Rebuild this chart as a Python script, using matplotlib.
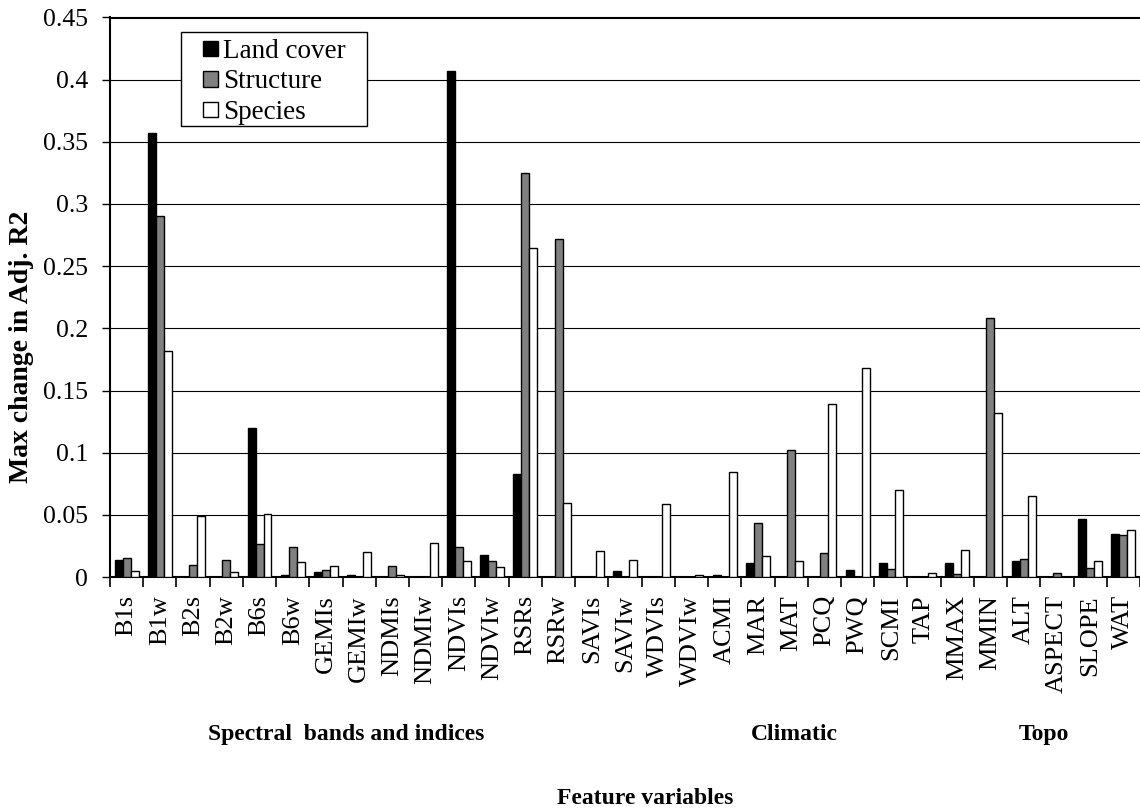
import numpy as np
import matplotlib
matplotlib.use('Agg')
import matplotlib.pyplot as plt
from matplotlib.patches import Rectangle

# data
features = ['B1s', 'B1w', 'B2s', 'B2w', 'B6s', 'B6w', 'GEMIs', 'GEMIw', 'NDMIs', 'NDMIw',
            'NDVIs', 'NDVIw', 'RSRs', 'RSRw', 'SAVIs', 'SAVIw', 'WDVIs', 'WDVIw',
            'ACMI', 'MAR', 'MAT', 'PCQ', 'PWQ', 'SCMI', 'TAP', 'MMAX', 'MMIN',
            'ALT', 'ASPECT', 'SLOPE', 'WAT']
land_cover = [0.0139, 0.357, 0, 0, 0.1195, 0.0013, 0.0037, 0.0013, 0, 0,
              0.407, 0.0179, 0.0826, 0, 0, 0.0045, 0, 0,
              0.0013, 0.011, 0, 0, 0.0053, 0.0115, 0, 0.0115, 0,
              0.0126, 0, 0.0465, 0.0342]
structure = [0.015, 0.29, 0.0096, 0.0139, 0.0262, 0.024, 0.0056, 0, 0.0086, 0,
             0.024, 0.0126, 0.325, 0.272, 0, 0, 0, 0,
             0, 0.0433, 0.102, 0.019, 0, 0.0067, 0, 0.0024, 0.208,
             0.0147, 0.0035, 0.0075, 0.0334]
species = [0.0045, 0.182, 0.0487, 0.0037, 0.0508, 0.0118, 0.0086, 0.0198, 0.0013, 0.0273,
           0.0126, 0.0078, 0.265, 0.0599, 0.0209, 0.0136, 0.0588, 0.0013,
           0.0848, 0.0168, 0.0126, 0.139, 0.168, 0.0703, 0.0035, 0.0219, 0.1318,
           0.065, 0, 0.0126, 0.0374]
yticks = [0, 0.05, 0.1, 0.15, 0.2, 0.25, 0.3, 0.35, 0.4, 0.45]
ytick_labels = ['0', '0.05', '0.1', '0.15', '0.2', '0.25', '0.3', '0.35', '0.4', '0.45']
groups = ['Spectral  bands and indices', 'Climatic', 'Topo']
group_x = [6.6, 20.1, 27.6]

plt.rcParams['font.family'] = 'Liberation Serif'

fig = plt.figure(figsize=(11.4, 8.11), dpi=100)
ax = fig.add_axes([110/1140, 1 - 577/811, 1030/1140, 559.5/811])

x = np.arange(len(features))
w = 0.24
ax.bar(x - w, land_cover, w, color='black', edgecolor='black', linewidth=1, label='Land cover', zorder=3)
ax.bar(x, structure, w, color='#808080', edgecolor='black', linewidth=1, label='Structure', zorder=3)
ax.bar(x + w, species, w, color='white', edgecolor='black', linewidth=1, label='Species', zorder=3)

ax.set_xlim(-0.5, len(features) - 0.5)
ax.set_ylim(0, 0.45)
ax.set_yticks(yticks)
ax.set_yticklabels(ytick_labels)
ax.grid(axis='y', color='black', linewidth=0.8, zorder=0)

ax.set_xticks(x)
ax.set_xticklabels(features, rotation=90)
ax.set_xticks(np.arange(-0.5, len(features), 1), minor=True)
ax.tick_params(axis='x', which='major', length=0, labelsize=19, pad=13)
ax.tick_params(axis='x', which='minor', length=7, width=1.2, direction='out')
ax.tick_params(axis='y', labelsize=18.5, length=6, width=1, direction='out', pad=10)

ax.spines['right'].set_visible(False)
ax.spines['left'].set_linewidth(1.5)
ax.spines['bottom'].set_linewidth(1.5)
ax.spines['top'].set_linewidth(1.5)

ax.set_ylabel('Max change in Adj. R2', fontsize=20, fontweight='bold')
ax.yaxis.set_label_coords(-76/1030, (577 - 347) / 559.5)

for g, gx in zip(groups, group_x):
    ax.text(gx, -0.282, g, transform=ax.get_xaxis_transform(), ha='center', va='center',
            fontsize=17, fontweight='bold')
fig.text(645/1140, 1 - 798/811, 'Feature variables', ha='center', va='center',
         fontsize=17, fontweight='bold')

# legend box
ax.add_patch(Rectangle((71/1030, (577 - 126) / 559.5), 186/1030, 94/559.5,
                       transform=ax.transAxes, facecolor='white', edgecolor='black',
                       linewidth=1, zorder=4))
leg = ax.legend(loc='upper left', bbox_to_anchor=(93/1030, (577 - 39) / 559.5), fontsize=19.5,
                frameon=False, handlelength=0.55, handleheight=0.5, handletextpad=0.2,
                borderpad=0, labelspacing=0.2, borderaxespad=0)
leg.set_zorder(5)

fig.savefig('out.png', dpi=100)
